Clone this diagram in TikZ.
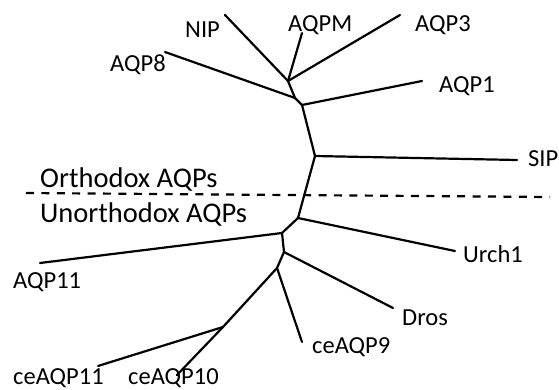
\documentclass[tikz,border=0pt]{standalone}
\usepackage{fontspec}
\setmainfont{Carlito}
\begin{document}
\begin{tikzpicture}[x=1pt,y=-1pt,
  branch/.style={line width=2.2pt,line cap=round,line join=round},
  leaf/.style={anchor=base west,inner sep=0pt,font=\fontsize{24.5}{29}\selectfont},
  section/.style={anchor=base west,inner sep=0pt,font=\fontsize{28.5}{34}\selectfont},
  divider/.style={line width=2.2pt,dash pattern=on 8pt off 7.4pt}]
\useasboundingbox (0,0) rectangle (559,390);
% internal nodes
\coordinate (A) at (288,81);
\coordinate (B) at (295,98);
\coordinate (P) at (302,105);
\coordinate (S) at (315,156);
\coordinate (U) at (298,218);
\coordinate (V) at (282,233);
\coordinate (W) at (284,252);
\coordinate (X) at (277,268);
\coordinate (Y) at (223,327);
% leaf ends
\coordinate (nip) at (225,15);
\coordinate (aqpm) at (302,33);
\coordinate (aqp3) at (400,15);
\coordinate (aqp8) at (165,52);
\coordinate (aqp1) at (422,81);
\coordinate (sip) at (517,160);
\coordinate (urch) at (455,251);
\coordinate (aqp11) at (40,263);
\coordinate (dros) at (393,308);
\coordinate (ce9) at (302,342);
\coordinate (ce11) at (98,366);
\coordinate (ce10) at (177,375);
% divider
\coordinate (dl) at (26,193);
\coordinate (dr) at (550,197);
\draw[divider] (dl) -- (dr);
% branches
\draw[branch] (nip) -- (A);
\draw[branch] (aqpm) -- (A);
\draw[branch] (aqp3) -- (A);
\draw[branch] (A) -- (B);
\draw[branch] (aqp8) -- (B);
\draw[branch] (B) -- (P);
\draw[branch] (P) -- (aqp1);
\draw[branch] (P) -- (S);
\draw[branch] (S) -- (sip);
\draw[branch] (S) -- (U);
\draw[branch] (U) -- (urch);
\draw[branch] (U) -- (V);
\draw[branch] (V) -- (aqp11);
\draw[branch] (V) -- (W);
\draw[branch] (W) -- (dros);
\draw[branch] (W) -- (X);
\draw[branch] (X) -- (ce9);
\draw[branch] (X) -- (Y);
\draw[branch] (Y) -- (ce11);
\draw[branch] (Y) -- (ce10);
% labels
\node[leaf] (tnip) at (185,38) {NIP};
\node[leaf] (taqpm) at (288,32) {AQPM};
\node[leaf] (taqp3) at (415,32) {AQP3};
\node[leaf] (taqp8) at (110,72) {AQP8};
\node[leaf] (taqp1) at (439,93) {AQP1};
\node[leaf] (tsip) at (528,167) {SIP};
\node[section] (tortho) at (40,187) {Orthodox AQPs};
\node[section] (tunortho) at (40,222) {Unorthodox AQPs};
\node[leaf] (turch) at (463,262) {Urch1};
\node[leaf] (taqp11) at (13,288) {AQP11};
\node[leaf] (tdros) at (402,325) {Dros};
\node[leaf] (tce9) at (312,353) {ceAQP9};
\node[leaf] (tce11) at (13,384) {ceAQP11};
\node[leaf] (tce10) at (128,384) {ceAQP10};
\end{tikzpicture}
\end{document}
